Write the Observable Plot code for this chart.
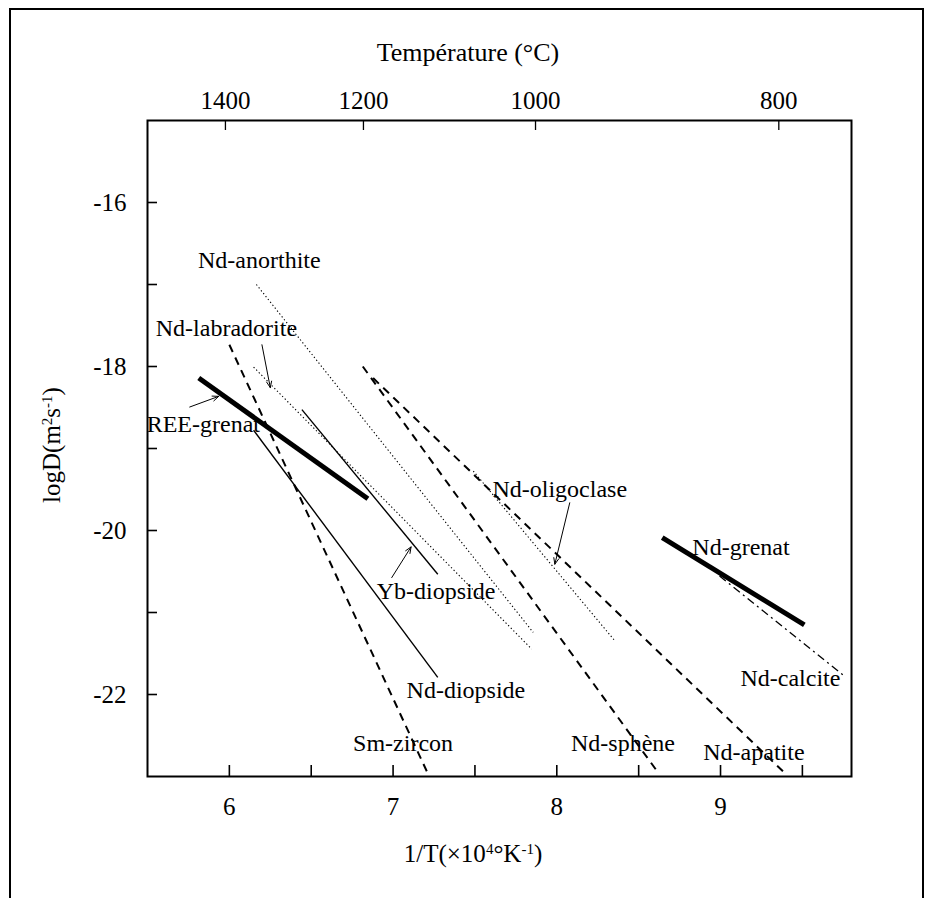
<!DOCTYPE html>
<html><head><meta charset="utf-8">
<script src="https://cdn.jsdelivr.net/npm/d3@7"></script>
<script src="https://cdn.jsdelivr.net/npm/@observablehq/plot@0.6"></script>
<style>
html,body{margin:0;padding:0;background:#fff;}
#wrap{position:relative;width:931px;height:898px;overflow:hidden;background:#fff;}
#box{position:absolute;left:9px;top:8px;width:915px;height:1000px;border:2px solid #000;box-sizing:border-box;}
#chart{position:absolute;left:0;top:0;}
</style></head><body>
<div id="wrap"><div id="box"></div><div id="chart"></div></div>
<script>
// ---- data ----
// diffusion segments: 1/T (x10^4 K^-1) and logD (m2/s)
const segNames = ["REE-grenat","Nd-grenat","Yb-diopside","Nd-diopside","Sm-zircon","Nd-sphène","Nd-apatite","Nd-anorthite","Nd-labradorite","Nd-oligoclase","Nd-calcite"];
const segX1 = [5.813, 8.644, 6.443, 6.148, 6.000, 6.815, 6.878, 6.165, 6.148, 7.490, 8.994];
const segY1 = [-18.141, -20.088, -18.526, -18.777, -17.735, -18.000, -18.141, -17.000, -18.007, -19.276, -20.554];
const segX2 = [6.846, 9.512, 7.273, 7.273, 7.209, 8.618, 9.401, 7.856, 7.846, 8.354, 9.766];
const segY2 = [-19.613, -21.150, -20.533, -21.791, -22.950, -22.950, -22.975, -21.243, -21.445, -21.344, -21.791];
const segKind = ["thick","thick","solid","solid","dashed","dashed","dashed","dotted","dotted","dotted","dashdot"];

// label anchors (data coordinates)
const labNames = ["Nd-anorthite","Nd-labradorite","REE-grenat","Yb-diopside","Nd-diopside","Sm-zircon","Nd-sphène","Nd-apatite","Nd-oligoclase","Nd-grenat","Nd-calcite"];
const labX = [6.183, 5.982, 5.841, 7.262, 7.445, 7.061, 8.404, 9.204, 8.018, 9.125, 9.427];
const labY = [-16.71, -17.533, -18.704, -20.736, -21.953, -22.601, -22.601, -22.703, -19.499, -20.209, -21.807];

// leader arrows
const arrX1 = [6.199, 5.758, 6.992, 8.079];
const arrY1 = [-17.735, -18.494, -20.574, -19.662];
const arrX2 = [6.250, 5.935, 7.110, 7.988];
const arrY2 = [-18.258, -18.364, -20.200, -20.411];

// ticks
const xTicks = [6, 6.5, 7, 7.5, 8, 8.5, 9, 9.5];
const xTickLabels = [6, 7, 8, 9];
const yTicks = [-16, -17, -18, -19, -20, -21, -22];
const yTickLabels = [-16, -18, -20, -22];
const topTickPos = [5.976, 6.819, 7.870, 9.356];
const topTickLabels = ["1400", "1200", "1000", "800"];

// ---- build tables ----
const segs = segNames.map((n, i) => ({name: n, x1: segX1[i], y1: segY1[i], x2: segX2[i], y2: segY2[i], kind: segKind[i]}));
const labs = labNames.map((n, i) => ({name: n, x: labX[i], y: labY[i]}));
const arrs = arrX1.map((v, i) => ({x1: v, y1: arrY1[i], x2: arrX2[i], y2: arrY2[i]}));

const styles = {
  thick:   {strokeWidth: 5},
  solid:   {strokeWidth: 1.4},
  dashed:  {strokeWidth: 2, strokeDasharray: "8,6"},
  dotted:  {strokeWidth: 1.1, strokeDasharray: "1.3,2.4"},
  dashdot: {strokeWidth: 1.3, strokeDasharray: "8,4,2,4"}
};

const W = 931, H = 898;
const mL = 147, mR = 80, mT = 120, mB = 122;
const fw = W - mL - mR, fh = H - mT - mB;

const segMarks = Object.keys(styles).map(k =>
  Plot.link(segs.filter(s => s.kind === k), {x1: "x1", y1: "y1", x2: "x2", y2: "y2", stroke: "#000", strokeLinecap: "butt", ...styles[k]})
);

const chart = Plot.plot({
  width: W, height: H,
  marginLeft: mL, marginRight: mR, marginTop: mT, marginBottom: mB,
  x: {domain: [5.5, 9.8]},
  y: {domain: [-23, -15]},
  style: {fontFamily: "'Liberation Serif','Times New Roman',serif", fontSize: "25px", color: "#000", background: "transparent", overflow: "visible"},
  marks: [
    ...segMarks,
    Plot.arrow(arrs, {x1: "x1", y1: "y1", x2: "x2", y2: "y2", stroke: "#000", strokeWidth: 1, headLength: 10, headAngle: 45}),
    Plot.text(labs, {x: "x", y: "y", text: "name", fontSize: 24, textAnchor: "middle", lineAnchor: "middle", fill: "#000"}),
    Plot.tickX(xTicks, {x: d => d, insetTop: fh - 11, stroke: "#000", strokeWidth: 1.6}),
    Plot.tickX(topTickPos, {x: d => d, insetBottom: fh - 10, stroke: "#000", strokeWidth: 1.3}),
    Plot.tickY(yTicks, {y: d => d, insetRight: fw - 10, stroke: "#000", strokeWidth: 1.6}),
    Plot.axisX(xTickLabels, {anchor: "bottom", tickSize: 0, tickPadding: 21, tickFormat: d => String(d), label: null, fill: "#000"}),
    Plot.axisX(topTickPos, {anchor: "top", tickSize: 0, tickPadding: 12, tickFormat: d => topTickLabels[topTickPos.indexOf(d)], label: null, fill: "#000"}),
    Plot.axisY(yTickLabels, {anchor: "left", tickSize: 0, tickPadding: 21, tickFormat: d => String(d), label: null, fill: "#000"}),
    Plot.frame({stroke: "#000", strokeWidth: 2})
  ]
});
document.getElementById("chart").appendChild(chart);

// ---- titles with superscripts ----
const svgSel = d3.select(chart);
const ff = "'Liberation Serif','Times New Roman',serif";
function sup(t, s) { t.append("tspan").attr("baseline-shift", "super").attr("font-size", "15px").text(s); }

const topTitle = svgSel.append("text").attr("x", 468).attr("y", 61).attr("text-anchor", "middle")
  .attr("font-family", ff).attr("font-size", 26).attr("fill", "#000").text("Température (°C)");

const botTitle = svgSel.append("text").attr("x", 473).attr("y", 862).attr("text-anchor", "middle")
  .attr("font-family", ff).attr("font-size", 25).attr("fill", "#000");
botTitle.append("tspan").text("1/T(×10");
sup(botTitle, "4");
botTitle.append("tspan").text("°K");
sup(botTitle, "-1");
botTitle.append("tspan").text(")");

const yTitle = svgSel.append("text").attr("transform", "translate(60,445) rotate(-90)").attr("text-anchor", "middle")
  .attr("font-family", ff).attr("font-size", 25).attr("fill", "#000");
yTitle.append("tspan").text("logD(m");
sup(yTitle, "2");
yTitle.append("tspan").text("s");
sup(yTitle, "-1");
yTitle.append("tspan").text(")");
</script>
</body></html>
